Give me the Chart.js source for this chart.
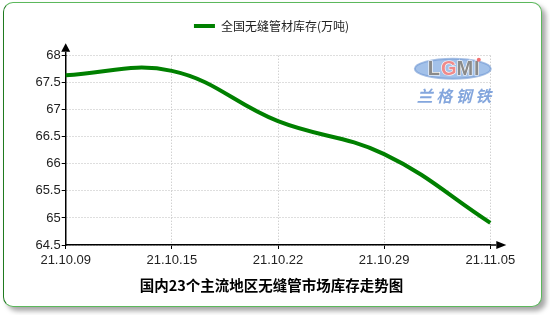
<!DOCTYPE html>
<html>
<head>
<meta charset="utf-8">
<script src="https://cdn.jsdelivr.net/npm/chart.js@4"></script>
<style>
  body{margin:0;background:#fff;}
  #box{position:absolute;left:3px;top:2px;width:537px;height:303px;background:#fff;
       border:1px solid #5cb85c;border-left-color:#1f7a1f;border-radius:10px;
       box-shadow:4px 4px 5px rgba(0,0,0,0.35);}
  #c{display:block;}
</style>
</head>
<body>
<div id="box"><canvas id="c" width="537" height="303"></canvas></div>
<script>
// data
const dates = ['21.10.09','21.10.15','21.10.22','21.10.29','21.11.05'];
const stock = [67.64, 67.72, 66.79, 66.18, 64.91];
const yMin = 64.5, yMax = 68, yStep = 0.5;
const seriesName = '全国无缝管材库存(万吨)';
const chartTitle = '国内23个主流地区无缝管市场库存走势图';

const tickFont = {family:'"Liberation Sans", Arial, sans-serif', size:13};

// arrows on both axes
const arrows = {
  id:'arrows',
  afterDraw(chart){
    const {ctx, chartArea:a} = chart;
    ctx.save();
    ctx.strokeStyle = '#000'; ctx.fillStyle = '#000'; ctx.lineWidth = 1.5;
    ctx.beginPath();
    ctx.moveTo(a.left, a.top); ctx.lineTo(a.left, a.top-4);
    ctx.moveTo(a.right, a.bottom); ctx.lineTo(a.right+6, a.bottom);
    ctx.stroke();
    ctx.beginPath();
    ctx.moveTo(a.left, a.top-12.5); ctx.lineTo(a.left-4.5, a.top-4); ctx.lineTo(a.left+4.5, a.top-4);
    ctx.closePath(); ctx.fill();
    ctx.beginPath();
    ctx.moveTo(a.right+16, a.bottom); ctx.lineTo(a.right+6, a.bottom-4); ctx.lineTo(a.right+6, a.bottom+4);
    ctx.closePath(); ctx.fill();
    ctx.restore();
  }
};

// faint logo in upper right
const logo = {
  id:'logo',
  beforeDatasetsDraw(chart){
    const {ctx, chartArea:a} = chart;
    const cx = a.right - 37.5, cy = a.top + 13;
    ctx.save();
    ctx.beginPath();
    ctx.ellipse(cx, cy, 38, 10, 0, 0, Math.PI*2);
    ctx.fillStyle = 'rgba(140,178,228,0.8)'; ctx.fill();
    ctx.lineWidth = 2; ctx.strokeStyle = 'rgba(110,150,210,0.6)'; ctx.stroke();
    ctx.font = 'bold 20px "Liberation Sans", Arial, sans-serif';
    ctx.textAlign = 'center'; ctx.textBaseline = 'middle';
    ctx.lineWidth = 1.2; ctx.strokeStyle = '#fff';
    const parts = [['L','#8a8a8a',-19],['G','#f08a8a',-4],['M','#8a8a8a',12],['I','#8a8a8a',24]];
    parts.forEach(([t,col,dx])=>{
      ctx.strokeText(t, cx+dx, cy+1);
      ctx.fillStyle = col; ctx.fillText(t, cx+dx, cy+1);
    });
    ctx.fillStyle = '#f07070';
    ctx.beginPath(); ctx.arc(cx+26, cy-9, 2, 0, Math.PI*2); ctx.fill();
    ctx.font = 'italic bold 16px "Noto Sans CJK SC", sans-serif';
    ctx.fillStyle = 'rgba(110,150,215,0.85)';
    const han = '兰格钢铁';
    for(let i=0;i<han.length;i++) ctx.fillText(han[i], cx-28+i*19.5, cy+27);
    ctx.restore();
  }
};

// leave room between legend and plot
const legendGap = {
  id:'legendGap',
  afterInit(chart){
    const lg = chart.legend;
    const fit = lg.fit;
    lg.fit = function(){ fit.call(this); this.height = 45.7; };
  }
};

new Chart(document.getElementById('c'), {
  type:'line',
  data:{
    labels:dates,
    datasets:[{
      label:seriesName,
      data:stock,
      borderColor:'#008000',
      backgroundColor:'#008000',
      borderWidth:4,
      tension:0.4,
      pointRadius:0,
      fill:false
    }]
  },
  options:{
    responsive:false,
    animation:false,
    layout:{padding:{left:0,right:2,top:7,bottom:0}},
    plugins:{
      legend:{
        position:'top',
        labels:{boxWidth:21, boxHeight:4, padding:10, color:'#222',
                font:{family:'"Noto Sans CJK SC", sans-serif', size:12},
                generateLabels(chart){
                  return Chart.defaults.plugins.legend.labels.generateLabels(chart)
                    .map(l => Object.assign(l, {lineWidth:0}));
                }}
      },
      title:{
        display:true, position:'bottom', text:chartTitle, color:'#000',
        font:{family:'"Noto Sans CJK SC", sans-serif', size:14.5, weight:'bold'},
        padding:{top:4,bottom:12}
      },
      tooltip:{enabled:false}
    },
    scales:{
      x:{
        offset:false,
        grid:{color:'#bdbdbd', tickLength:4, tickColor:'#000', tickWidth:1},
        border:{color:'#000', width:1.5, dash:[1,2]},
        ticks:{color:'#222', font:tickFont, padding:4, maxRotation:0},
        afterFit(s){ s.paddingRight = 50.7; }
      },
      y:{
        min:yMin, max:yMax,
        grid:{color:'#bdbdbd', tickLength:4, tickColor:'#000', tickWidth:1},
        border:{color:'#000', width:1.5, dash:[1,2]},
        ticks:{stepSize:yStep, color:'#222', font:tickFont, padding:1,
               callback:v => String(Number(v.toFixed(1)))},
        afterFit(s){ s.width = 61.7; }
      }
    }
  },
  plugins:[logo, arrows, legendGap]
});
</script>
</body>
</html>
